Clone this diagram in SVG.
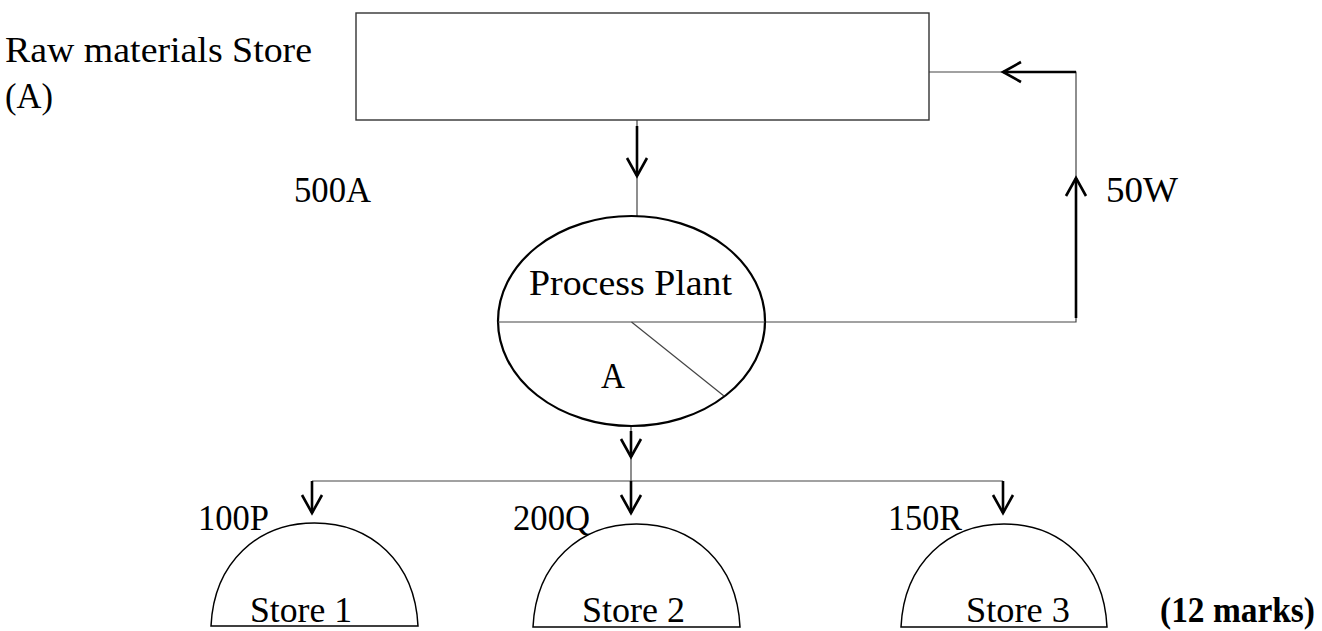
<svg xmlns="http://www.w3.org/2000/svg" width="1322" height="631" viewBox="0 0 1322 631">
<style>
  text { font-family: "Liberation Serif", "DejaVu Serif", serif; font-size: 35px; fill: #000; }
  .bold { font-weight: bold; }
  .thin { fill: none; stroke: #444; stroke-width: 1.2; }
  .thick { fill: none; stroke: #000; stroke-width: 2.6; marker-end: url(#vhead); }
  .box { fill: #fff; stroke: #333; stroke-width: 1.4; }
  .oval { fill: #fff; stroke: #000; stroke-width: 2.2; }
  .dome { fill: #fff; stroke: #000; stroke-width: 1.5; }
</style>
<defs>
  <marker id="vhead" viewBox="-3 -3 26 26" refX="18" refY="10" markerUnits="userSpaceOnUse" markerWidth="26" markerHeight="26" orient="auto">
    <path d="M0,0 L18,10 L0,20" fill="none" stroke="#000" stroke-width="2.6"/>
  </marker>
</defs>
<rect width="1322" height="631" fill="#fff"/>

<g id="connectors">
  <path class="thin" d="M637,120 V216"/>
  <path class="thick" d="M637,126 V176"/>
  <path class="thin" d="M765,322 H1076 V72 H929"/>
  <path class="thick" d="M1076,318 V178"/>
  <path class="thick" d="M1076,72 H1003"/>
  <path class="thin" d="M631,426 V481"/>
  <path class="thick" d="M631,431 V457"/>
  <path class="thin" d="M312,481 H1003"/>
  <path class="thick" d="M312,481 V513"/>
  <path class="thick" d="M631,481 V513"/>
  <path class="thick" d="M1003,481 V513"/>
  <text x="294" y="202" textLength="77" lengthAdjust="spacingAndGlyphs">500A</text>
  <text x="1106" y="202" textLength="72" lengthAdjust="spacingAndGlyphs">50W</text>
</g>

<g id="raw-materials-store">
  <rect class="box" x="356" y="13" width="573" height="107"/>
  <text x="5" y="62" textLength="307" lengthAdjust="spacingAndGlyphs">Raw materials Store</text>
  <text x="5" y="108" textLength="48" lengthAdjust="spacingAndGlyphs">(A)</text>
</g>

<g id="process-plant">
  <ellipse class="oval" cx="631.5" cy="321" rx="133.5" ry="105"/>
  <path class="thin" d="M498,322 H765"/>
  <path class="thin" stroke-width="1" d="M631.5,322 L724,396"/>
  <text x="529" y="295" textLength="203" lengthAdjust="spacingAndGlyphs">Process Plant</text>
  <text x="601" y="388" textLength="24" lengthAdjust="spacingAndGlyphs">A</text>
</g>

<g id="store-1">
  <path class="dome" d="M211,626 C214,562 258,523 314.5,523 C371,523 415,562 418,626 Z"/>
  <text x="198" y="530" textLength="71" lengthAdjust="spacingAndGlyphs">100P</text>
  <text x="250" y="622" textLength="102" lengthAdjust="spacingAndGlyphs">Store 1</text>
</g>

<g id="store-2">
  <path class="dome" d="M533,627 C536,563 580,524 636.5,524 C693,524 737,563 740,627 Z"/>
  <text x="513" y="530" textLength="77" lengthAdjust="spacingAndGlyphs">200Q</text>
  <text x="582" y="622" textLength="103" lengthAdjust="spacingAndGlyphs">Store 2</text>
</g>

<g id="store-3">
  <path class="dome" d="M901,627 C904,563 948,524 1004,524 C1060,524 1104,563 1107,627 Z"/>
  <text x="888" y="530" textLength="74" lengthAdjust="spacingAndGlyphs">150R</text>
  <text x="966" y="622" textLength="104" lengthAdjust="spacingAndGlyphs">Store 3</text>
</g>

<text class="bold" x="1160" y="622" textLength="155" lengthAdjust="spacingAndGlyphs">(12 marks)</text>
</svg>
